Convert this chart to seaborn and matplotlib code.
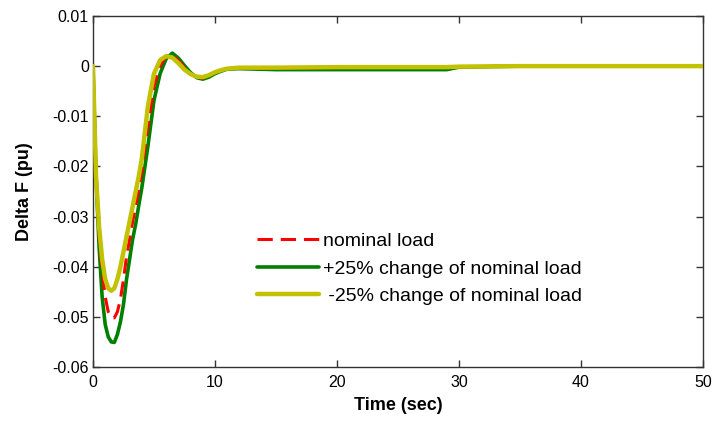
import numpy as np
import pandas as pd
import seaborn as sns
from matplotlib import pyplot as plt

# time axis (sec) and frequency deviation
time = [0, 0.25, 0.5, 0.75, 1.0, 1.25, 1.5, 1.75, 2.0, 2.25, 2.5, 2.75, 3.0, 3.25,
        3.5, 3.75, 4.0, 4.5, 5.0, 5.5, 6.0, 6.5, 7.0, 7.5, 8.0, 8.5, 9.0, 9.5,
        10, 10.5, 11, 12, 15, 20, 29, 30, 35, 50]

nominal = [0, -0.021, -0.034, -0.041, -0.046, -0.049, -0.0502, -0.0502, -0.049,
           -0.0465, -0.0425, -0.038, -0.0345, -0.031, -0.028, -0.0245, -0.021,
           -0.012, -0.004, 0.0, 0.002, 0.0023, 0.0011, -0.0003, -0.0015,
           -0.0022, -0.0024, -0.002, -0.0013, -0.0009, -0.0005, -0.0004,
           -0.0004, -0.0003, -0.0002, -0.0001, 0, 0]

plus25 = [0, -0.022, -0.036, -0.046, -0.0515, -0.054, -0.055, -0.0551, -0.0535,
          -0.051, -0.0475, -0.0425, -0.0385, -0.0345, -0.0315, -0.0278, -0.0243,
          -0.016, -0.0068, -0.0015, 0.0015, 0.0026, 0.0016, 0.0001, -0.0013,
          -0.0023, -0.0026, -0.0022, -0.0015, -0.001, -0.0006, -0.0005,
          -0.0007, -0.0007, -0.0007, -0.0002, 0, 0]

minus25 = [0, -0.022, -0.032, -0.0385, -0.0425, -0.0443, -0.0448, -0.0443, -0.0425,
           -0.040, -0.037, -0.034, -0.031, -0.028, -0.025, -0.022, -0.0185,
           -0.008, -0.0015, 0.0012, 0.002, 0.0017, 0.0006, -0.0007, -0.0016,
           -0.0021, -0.0022, -0.0018, -0.0012, -0.0008, -0.0005, -0.0003,
           -0.0003, -0.0002, -0.0002, -0.0001, 0, 0]

labels = ['nominal load', '+25% change of nominal load', ' -25% change of nominal load']
yticks = [0.01, 0, -0.01, -0.02, -0.03, -0.04, -0.05, -0.06]
ytick_labels = ['0.01', '0', '-0.01', '-0.02', '-0.03', '-0.04', '-0.05', '-0.06']
xticks = [0, 10, 20, 30, 40, 50]

sns.set_style('ticks', {'xtick.direction': 'in', 'ytick.direction': 'in'})
plt.rcParams['font.family'] = ['Liberation Sans', 'DejaVu Sans']
plt.rcParams['text.color'] = 'black'
plt.rcParams['axes.labelcolor'] = 'black'

df = pd.DataFrame({'time': time, 'nominal': nominal, 'plus': plus25, 'minus': minus25})

fig = plt.figure(figsize=(7.12, 4.25), dpi=100)
ax = fig.add_axes([0.1306, 0.1365, 0.8568, 0.8259])

# draw order: green, red, yellow on top
sns.lineplot(data=df, x='time', y='plus', ax=ax, color='#008000', lw=2.6, zorder=2)
sns.lineplot(data=df, x='time', y='nominal', ax=ax, color='#ff0000', lw=2.2,
             linestyle=(0, (5, 2.6)), zorder=3)
sns.lineplot(data=df, x='time', y='minus', ax=ax, color='#c2c200', lw=3.2, zorder=4)

ax.set_xlim(0, 50)
ax.set_ylim(-0.06, 0.01)
ax.set_xticks(xticks)
ax.set_yticks(yticks)
ax.set_yticklabels(ytick_labels)
ax.tick_params(labelsize=11.5, length=5, width=1, top=True, right=True,
               colors='#333333', labelcolor='black', pad=6)
ax.tick_params(axis='y', pad=3)
for s in ax.spines.values():
    s.set_color('#333333')
    s.set_linewidth(1)

ax.set_xlabel('Time (sec)', fontsize=13, fontweight='bold', labelpad=5)
ax.set_ylabel('Delta F (pu)', fontsize=13, fontweight='bold', labelpad=14)

lines = ax.get_lines()
handles = [lines[1], lines[0], lines[2]]
ax.legend(handles, labels, loc='center left', bbox_to_anchor=(0.24, 0.28),
          frameon=False, fontsize=14, handlelength=3.2, handletextpad=0.2,
          labelspacing=0.5)

plt.savefig('out.png', dpi=100)
